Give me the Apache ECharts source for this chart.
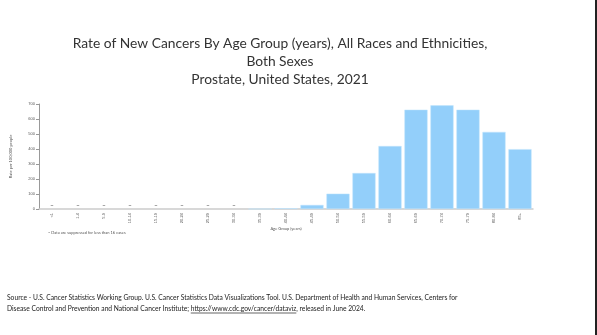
<!DOCTYPE html>
<html><head><meta charset="utf-8">
<script src="https://cdn.jsdelivr.net/npm/echarts@6/dist/echarts.min.js"></script>
<style>html,body{margin:0;padding:0;background:#fff}#c{width:597px;height:335px}</style>
</head><body><div id="c"></div>
<script>
const categories = ['<1','1-4','5-9','10-14','15-19','20-24','25-29','30-34','35-39','40-44','45-49','50-54','55-59','60-64','65-69','70-74','75-79','80-84','85+'];
const rates = [null,null,null,null,null,null,null,null,0.8,5,27,102,240,420,662,691,662,514,399];
const suppressed = [1,1,1,1,1,1,1,1,0,0,0,0,0,0,0,0,0,0,0];
const yTicks = [0,100,200,300,400,500,600,700];
const titleLines = ['Rate of New Cancers By Age Group (years), All Races and Ethnicities,','Both Sexes','Prostate, United States, 2021'];
const srcLine1 = 'Source - U.S. Cancer Statistics Working Group. U.S. Cancer Statistics Data Visualizations Tool. U.S. Department of Health and Human Services, Centers for';
const srcPre = 'Disease Control and Prevention and National Cancer Institute; ';
const srcUrl = 'https://www.cdc.gov/cancer/dataviz';
const srcPost = ', released in June 2024.';

const F = 'Lato, "Liberation Sans", sans-serif';
const SF = 6.7;
const ctx = document.createElement('canvas').getContext('2d');
ctx.font = SF + 'px ' + F;
const wPre = ctx.measureText(srcPre).width;
const wUrl = ctx.measureText(srcUrl).width;

const chart = echarts.init(document.getElementById('c'), null, {renderer:'canvas'});
chart.setOption({
  animation:false,
  title:{text:titleLines.join('\n'), left:275, top:29.5, textAlign:'center',
    textStyle:{fontFamily:F, fontSize:13.8, fontWeight:'normal', color:'#333', lineHeight:18}},
  grid:{left:39, right:64, top:104, bottom:126, containLabel:false},
  xAxis:{type:'category', data:categories, name:'Age Group (years)', nameLocation:'middle', nameGap:18,
    nameTextStyle:{fontSize:4, color:'#555', fontFamily:F},
    axisLine:{lineStyle:{color:'#ccc', width:1.5}},
    axisTick:{alignWithLabel:true, length:3, lineStyle:{color:'#999'}},
    axisLabel:{rotate:90, fontSize:4, color:'#555', margin:4, interval:0}},
  yAxis:{type:'value', min:0, max:700, interval:100, name:'Rate per 100,000 people', nameLocation:'middle', nameGap:26,
    nameTextStyle:{fontSize:4, color:'#555', fontFamily:F},
    axisLine:{show:true, lineStyle:{color:'#999'}},
    axisTick:{show:true, length:3, lineStyle:{color:'#999'}},
    splitLine:{show:false},
    axisLabel:{fontSize:4, color:'#555', margin:4, formatter:v=>yTicks.includes(v)?String(v):''}},
  series:[
    {type:'bar', data:rates, barCategoryGap:'11%', barGap:'-100%',
      itemStyle:{color:'#93cffa', borderColor:'#c2e4fc', borderWidth:0.5}},
    {type:'bar', data:suppressed.map(s=>s?0:null), barGap:'-100%',
      label:{show:true, position:'top', formatter:'~', fontSize:5, color:'#555', distance:1},
      itemStyle:{color:'transparent'}}
  ],
  graphic:[
    {type:'text', left:48, top:231, style:{text:'~ Data are suppressed for less than 16 cases', fontSize:4, fill:'#555', fontFamily:F}},
    {type:'text', left:7, top:294, style:{text:srcLine1, fontSize:SF, fill:'#222', fontFamily:F}},
    {type:'text', left:7, top:305, style:{text:srcPre + srcUrl + srcPost, fontSize:SF, fill:'#222', fontFamily:F}},
    {type:'line', shape:{x1:7+wPre, y1:313, x2:7+wPre+wUrl, y2:313}, style:{stroke:'#222', lineWidth:0.7}},
    {type:'rect', shape:{x:595, y:0, width:2, height:335}, style:{fill:'#222'}}
  ]
});
</script></body></html>
